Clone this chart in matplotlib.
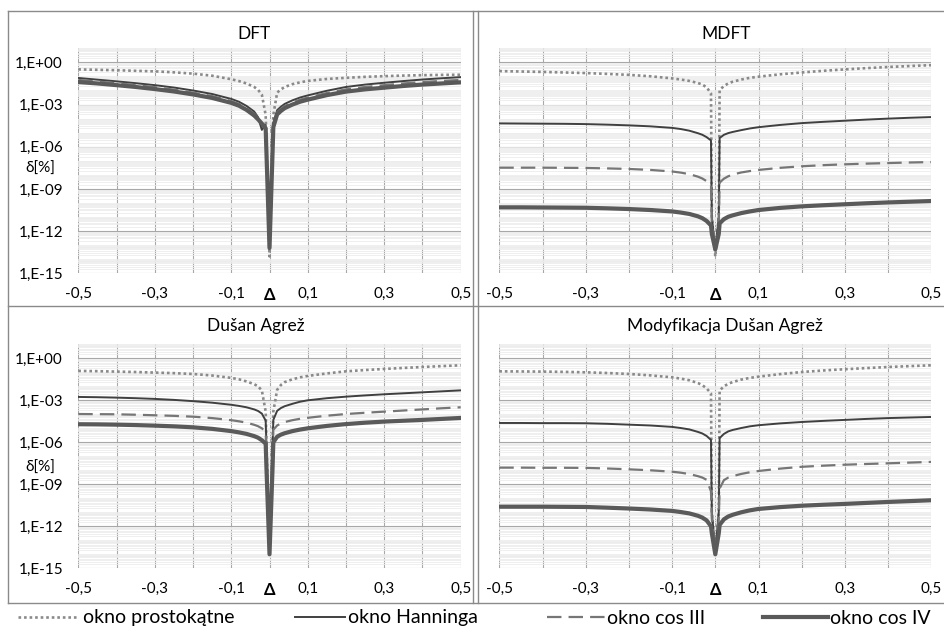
import numpy as np
import matplotlib
matplotlib.use('Agg')
import matplotlib.pyplot as plt
from matplotlib.ticker import FixedLocator, LogLocator, NullFormatter
from matplotlib.lines import Line2D

plt.rcParams['font.family'] = ['Lato', 'DejaVu Sans']

# ---------------- data (log10 of delta[%]) ----------------
delta = [-0.5, -0.45, -0.4, -0.35, -0.3, -0.25, -0.2, -0.15, -0.1, -0.08, -0.06, -0.04, -0.03,
         -0.02, -0.01, -0.008, 0.0, 0.008, 0.01, 0.02, 0.03, 0.04, 0.06, 0.08, 0.1, 0.15,
         0.2, 0.25, 0.3, 0.35, 0.4, 0.45, 0.5]

dft_rect = [-0.50, -0.53, -0.56, -0.60, -0.64, -0.71, -0.80, -0.95, -1.20, -1.33, -1.50, -1.75, -1.95,
            -2.30, -3.74, -5.75, -13.8, -5.75, -3.74, -2.15, -1.92, -1.75, -1.55, -1.42, -1.32, -1.18,
            -1.10, -1.03, -0.98, -0.94, -0.91, -0.89, -0.88]
dft_hann = [-1.11, -1.23, -1.35, -1.48, -1.62, -1.79, -2.00, -2.25, -2.60, -2.80, -3.10, -3.50, -3.90,
            -4.80, -4.45, -6.20, -13.1, -6.20, -4.30, -3.40, -3.15, -2.95, -2.70, -2.50, -2.35, -2.02,
            -1.75, -1.58, -1.45, -1.33, -1.22, -1.13, -1.05]
dft_cos3 = [-1.25, -1.36, -1.48, -1.61, -1.76, -1.94, -2.15, -2.40, -2.75, -2.95, -3.25, -3.65, -3.95,
            -4.25, -4.60, -6.30, -13.1, -6.30, -4.50, -3.55, -3.30, -3.10, -2.85, -2.65, -2.50, -2.18,
            -1.92, -1.75, -1.62, -1.50, -1.40, -1.32, -1.25]
dft_cos4 = [-1.40, -1.50, -1.62, -1.75, -1.90, -2.07, -2.28, -2.53, -2.88, -3.08, -3.38, -3.78, -4.05,
            -4.35, -4.70, -6.40, -13.2, -6.40, -4.60, -3.70, -3.45, -3.25, -3.00, -2.80, -2.65, -2.33,
            -2.08, -1.92, -1.80, -1.68, -1.58, -1.50, -1.42]

mdft_rect = [-0.62, -0.65, -0.68, -0.72, -0.76, -0.82, -0.89, -0.99, -1.14, -1.22, -1.32, -1.47, -1.58,
             -1.78, -2.20, -11.0, -13.8, -11.0, -1.97, -1.68, -1.50, -1.38, -1.22, -1.10, -1.02, -0.85,
             -0.72, -0.60, -0.50, -0.41, -0.33, -0.26, -0.20]
mdft_hann = [-4.34, -4.35, -4.36, -4.37, -4.39, -4.43, -4.48, -4.55, -4.66, -4.74, -4.86, -5.04, -5.15,
             -5.32, -5.55, -11.0, -13.3, -11.0, -5.38, -5.15, -5.03, -4.95, -4.82, -4.70, -4.61, -4.45,
             -4.32, -4.23, -4.15, -4.07, -4.00, -3.94, -3.89]
mdft_cos3 = [-7.49, -7.49, -7.49, -7.50, -7.51, -7.54, -7.58, -7.65, -7.76, -7.84, -7.95, -8.13, -8.26,
             -8.45, -8.72, -11.5, -13.3, -11.5, -8.55, -8.27, -8.10, -7.98, -7.83, -7.73, -7.65, -7.50,
             -7.39, -7.31, -7.25, -7.20, -7.16, -7.12, -7.09]
mdft_cos4 = [-10.31, -10.31, -10.32, -10.33, -10.34, -10.38, -10.43, -10.50, -10.60, -10.68, -10.78, -10.95, -11.08,
             -11.28, -11.60, -12.2, -13.3, -12.2, -11.45, -11.15, -10.98, -10.88, -10.72, -10.60, -10.50, -10.35,
             -10.24, -10.16, -10.09, -10.02, -9.96, -9.91, -9.86]

da_rect = [-0.90, -0.92, -0.95, -0.98, -1.02, -1.06, -1.12, -1.23, -1.40, -1.50, -1.65, -1.85, -2.00,
           -2.30, -3.80, -5.90, -14.0, -5.90, -3.80, -2.25, -1.90, -1.70, -1.50, -1.36, -1.26, -1.08,
           -0.93, -0.84, -0.76, -0.69, -0.62, -0.56, -0.50]
da_hann = [-2.76, -2.78, -2.81, -2.85, -2.90, -2.97, -3.06, -3.17, -3.32, -3.40, -3.50, -3.65, -3.76,
           -3.95, -4.45, -6.20, -14.0, -6.20, -4.40, -3.75, -3.55, -3.42, -3.25, -3.10, -3.00, -2.85,
           -2.74, -2.65, -2.57, -2.50, -2.43, -2.36, -2.29]
da_cos3 = [-3.98, -3.99, -4.00, -4.03, -4.07, -4.11, -4.17, -4.27, -4.42, -4.50, -4.60, -4.75, -4.85,
           -5.00, -5.25, -6.90, -14.0, -6.90, -5.10, -4.80, -4.65, -4.55, -4.42, -4.32, -4.25, -4.10,
           -3.98, -3.89, -3.81, -3.73, -3.65, -3.57, -3.50]
da_cos4 = [-4.71, -4.72, -4.74, -4.77, -4.81, -4.86, -4.93, -5.04, -5.20, -5.29, -5.40, -5.56, -5.67,
           -5.85, -6.10, -7.80, -14.0, -7.80, -6.00, -5.60, -5.45, -5.35, -5.20, -5.09, -5.00, -4.83,
           -4.70, -4.60, -4.52, -4.46, -4.40, -4.33, -4.26]

mda_rect = [-0.93, -0.94, -0.95, -0.97, -1.00, -1.05, -1.12, -1.22, -1.36, -1.45, -1.57, -1.77, -1.92,
            -2.15, -2.50, -11.0, -14.0, -11.0, -2.30, -2.00, -1.82, -1.70, -1.52, -1.40, -1.31, -1.13,
            -0.98, -0.87, -0.78, -0.70, -0.62, -0.56, -0.50]
mda_hann = [-4.62, -4.62, -4.63, -4.63, -4.64, -4.68, -4.74, -4.80, -4.90, -4.98, -5.08, -5.26, -5.37,
            -5.55, -5.83, -11.0, -13.8, -11.0, -5.70, -5.40, -5.22, -5.12, -4.98, -4.86, -4.78, -4.65,
            -4.55, -4.47, -4.40, -4.33, -4.27, -4.23, -4.19]
mda_cos3 = [-7.81, -7.81, -7.82, -7.82, -7.83, -7.87, -7.93, -8.00, -8.10, -8.17, -8.27, -8.42, -8.52,
            -8.68, -9.50, -11.5, -13.8, -11.5, -9.30, -8.70, -8.52, -8.42, -8.26, -8.14, -8.05, -7.88,
            -7.75, -7.67, -7.60, -7.55, -7.50, -7.45, -7.40]
mda_cos4 = [-10.60, -10.60, -10.60, -10.61, -10.62, -10.67, -10.73, -10.80, -10.90, -10.98, -11.08, -11.25, -11.38,
            -11.58, -12.00, -12.5, -14.0, -12.5, -11.90, -11.50, -11.30, -11.18, -11.00, -10.86, -10.76, -10.63,
            -10.53, -10.46, -10.40, -10.33, -10.26, -10.20, -10.14]

panel_titles = ['DFT', 'MDFT', 'Dušan Agrež', 'Modyfikacja Dušan Agrež']
series_labels = ['okno prostokątne', 'okno Hanninga', 'okno cos III', 'okno cos IV']
panel_data = [
    [dft_rect, dft_hann, dft_cos3, dft_cos4],
    [mdft_rect, mdft_hann, mdft_cos3, mdft_cos4],
    [da_rect, da_hann, da_cos3, da_cos4],
    [mda_rect, mda_hann, mda_cos3, mda_cos4],
]
x_ticks = [-0.5, -0.4, -0.3, -0.2, -0.1, 0.0, 0.1, 0.2, 0.3, 0.4, 0.5]
x_ticklabels = ['-0,5', '', '-0,3', '', '-0,1', 'Δ', '0,1', '', '0,3', '', '0,5']
y_ticks = [1e0, 1e-3, 1e-6, 1e-9, 1e-12, 1e-15]
y_ticklabels = ['1,E+00', '1,E-03', '1,E-06', '1,E-09', '1,E-12', '1,E-15']
y_label = 'δ[%]'

# ---------------- styles ----------------
styles = [
    dict(color='#8a8a8a', lw=1.9, ls=(0, (1, 1.1))),
    dict(color='#404040', lw=1.4, ls='-'),
    dict(color='#767676', lw=1.6, ls=(0, (6.5, 3.2))),
    dict(color='#5a5a5a', lw=3.0, ls='-'),
]

W, H = 944, 629
fig = plt.figure(figsize=(W / 100, H / 100), dpi=100)
fig.patch.set_facecolor('white')

def frac_rect(x0, x1, ytop, ybot):
    return [x0 / W, 1 - ybot / H, (x1 - x0) / W, (ybot - ytop) / H]

rects = [
    frac_rect(78.3, 460.7, 48.3, 273.3),
    frac_rect(499.3, 931.3, 48.3, 273.3),
    frac_rect(78.3, 460.7, 344.3, 568.3),
    frac_rect(499.3, 931.3, 344.3, 568.3),
]
title_pos = [(254, 34), (726, 34), (255.5, 326), (724.5, 326)]

TICK_FS = 11
lines_for_legend = None
for i, (rect, series) in enumerate(zip(rects, panel_data)):
    ax = fig.add_axes(rect)
    ax.set_yscale('log')
    ax.set_xlim(-0.5, 0.5)
    ax.set_ylim(1e-15, 1e1)
    handles = []
    for vals, st in zip(series, styles):
        h, = ax.plot(delta, 10.0 ** np.array(vals), color=st['color'], lw=st['lw'],
                     linestyle=st['ls'], solid_joinstyle='round', zorder=3)
        handles.append(h)
    if lines_for_legend is None:
        lines_for_legend = handles
    ax.xaxis.set_major_locator(FixedLocator(x_ticks))
    ax.set_xticklabels(x_ticklabels, fontsize=TICK_FS)
    for lab in ax.get_xticklabels():
        if lab.get_text() == 'Δ':
            lab.set_fontweight('bold')
            lab.set_fontsize(TICK_FS + 1)
    ax.yaxis.set_major_locator(FixedLocator(y_ticks))
    ax.yaxis.set_minor_locator(LogLocator(base=10, subs=np.arange(1, 10), numticks=60))
    ax.yaxis.set_minor_formatter(NullFormatter())
    if i in (0, 2):
        ax.set_yticklabels(y_ticklabels, fontsize=TICK_FS)
    else:
        ax.set_yticklabels([''] * len(y_ticks))
    ax.tick_params(axis='both', which='both', length=0)
    ax.tick_params(axis='x', pad=10)
    ax.tick_params(axis='y', pad=11)
    ax.grid(True, which='major', axis='both', color='#a8a8a8', lw=0.8, zorder=1)
    ax.grid(True, which='minor', axis='y', color='#ececec', lw=0.6, zorder=0)
    for s in ax.spines.values():
        s.set_visible(False)
    tx, ty = title_pos[i]
    fig.text(tx / W, 1 - ty / H, panel_titles[i], ha='center', va='center', fontsize=12.5)

# y-axis labels
fig.text(40 / W, 1 - 169 / H, y_label, ha='center', va='center', fontsize=TICK_FS)
fig.text(40 / W, 1 - 468 / H, y_label, ha='center', va='center', fontsize=TICK_FS)

# panel borders
bc = '#8a8a8a'
def hline(y, x0, x1):
    fig.add_artist(Line2D([x0 / W, x1 / W], [1 - y / H, 1 - y / H], color=bc, lw=1.0))
def vline(x, y0, y1):
    fig.add_artist(Line2D([x / W, x / W], [1 - y0 / H, 1 - y1 / H], color=bc, lw=1.0))
hline(10.5, 8, W)
hline(306, 8, W)
hline(603, 8, W)
vline(8, 10.5, 603)
vline(473, 10.5, 603)
vline(478, 10.5, 603)

# legend
LEG_FS = 14
px_per_fs = LEG_FS * 100 / 72
leg_items = [(18, 78, 83), (295, 345, 348), (547, 605, 607), (763, 828, 830)]
for h, lab, (x0, x1, xt) in zip(lines_for_legend, series_labels, leg_items):
    lg = fig.legend([h], [lab], loc='center left', bbox_to_anchor=(x0 / W, 1 - 618 / H),
                    frameon=False, borderpad=0, borderaxespad=0,
                    handlelength=(x1 - x0) / px_per_fs,
                    handletextpad=(xt - x1) / px_per_fs, fontsize=LEG_FS)

fig.savefig('out.png', dpi=100, facecolor='white')
